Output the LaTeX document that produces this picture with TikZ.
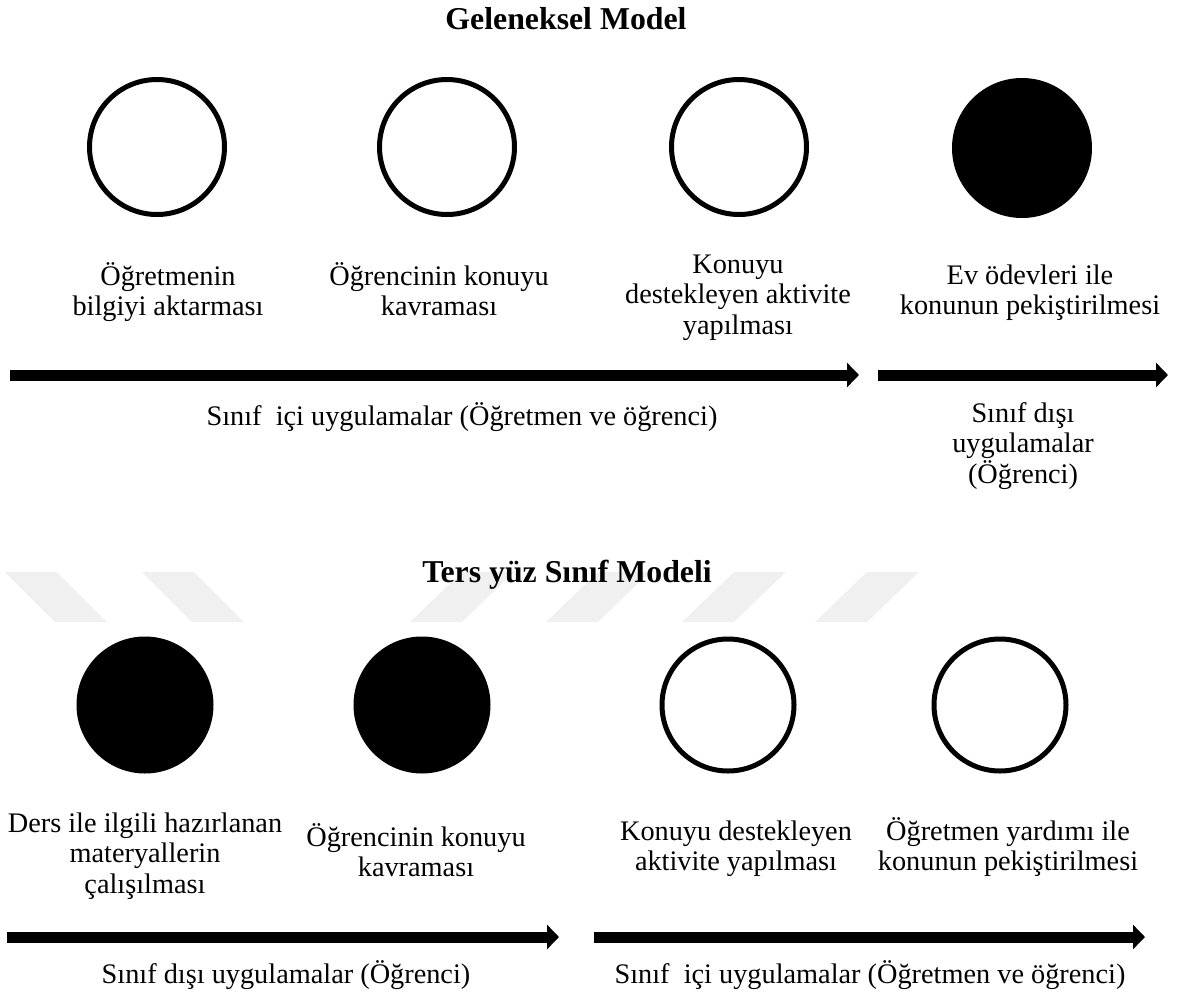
\documentclass[tikz,border=0pt]{standalone}
\usepackage{fontspec}
\setmainfont{Liberation Serif}
\usetikzlibrary{arrows.meta}

\begin{document}
\begin{tikzpicture}[
  x=0.5pt, y=-0.5pt,
  ring/.style={circle,draw,line width=2.5pt,inner sep=0pt,minimum size=67.5pt},
  dot/.style={ring,fill=black},
  lbl/.style={align=center,inner sep=0pt,anchor=base,font=\fontsize{14.15}{15.25}\selectfont},
  ttl/.style={inner sep=0pt,anchor=base,font=\fontsize{15.9}{18}\selectfont\bfseries},
  flow/.style={line width=5.5pt,-{Triangle[length=6pt,width=12pt]}},
  wmark/.style={fill=black!6}
]
  \useasboundingbox (0,0) rectangle (1184,996);
  % watermark stripes
  \fill[wmark] (5,572) -- (57,572) -- (107,622) -- (55,622) -- cycle;
  \fill[wmark] (142,572) -- (194,572) -- (244,622) -- (192,622) -- cycle;
  \fill[wmark] (410,622) -- (462,622) -- (514,572) -- (462,572) -- cycle;
  \fill[wmark] (546,622) -- (598,622) -- (650,572) -- (598,572) -- cycle;
  \fill[wmark] (682,622) -- (734,622) -- (786,572) -- (734,572) -- cycle;
  \fill[wmark] (815,622) -- (867,622) -- (919,572) -- (867,572) -- cycle;
  % Geleneksel Model
  \node[ttl] (t1) at (566,29) {Geleneksel Model};
  \node[ring] (c1) at (157,147) {};
  \node[ring] (c2) at (447,147) {};
  \node[ring] (c3) at (739,147) {};
  \node[dot] (c4) at (1022,148) {};
  % multi-line labels sit on their last baseline
  \node[lbl] (d1) at (168,315.5) {Öğretmenin\\bilgiyi aktarması};
  \node[lbl] (d2) at (439,315.5) {Öğrencinin konuyu\\kavraması};
  \node[lbl] (d3) at (738,334) {Konuyu\\destekleyen aktivite\\yapılması};
  \node[lbl] (d4) at (1030,314.5) {Ev ödevleri ile\\konunun pekiştirilmesi};
  \coordinate (a1s) at (10,375);
  \coordinate (a1e) at (859,375);
  \coordinate (a2s) at (878,375);
  \coordinate (a2e) at (1168,375);
  \draw[flow] (a1s) -- (a1e);
  \draw[flow] (a2s) -- (a2e);
  \node[lbl] (u1) at (462,425) {Sınıf~ içi uygulamalar (Öğretmen ve öğrenci)};
  \node[lbl] (u2) at (1023,483) {Sınıf dışı\\uygulamalar\\(Öğrenci)};
  % Ters yuz Sinif Modeli
  \node[ttl] (t2) at (567,582) {Ters yüz Sınıf Modeli};
  \node[dot,minimum size=66pt] (f1) at (145,705) {};
  \node[dot,minimum size=66pt] (f2) at (422,705) {};
  \node[ring,minimum size=66pt] (f3) at (728,705) {};
  \node[ring,minimum size=66pt] (f4) at (1000,705) {};
  \node[lbl] (e1) at (145,893) {Ders ile ilgili hazırlanan\\materyallerin\\çalışılması};
  \node[lbl] (e2) at (416,876.5) {Öğrencinin konuyu\\kavraması};
  \node[lbl] (e3) at (736,870.5) {Konuyu destekleyen\\aktivite yapılması};
  \node[lbl] (e4) at (1008,870.5) {Öğretmen yardımı ile\\konunun pekiştirilmesi};
  \coordinate (b1s) at (7,937);
  \coordinate (b1e) at (559,937);
  \coordinate (b2s) at (594,937);
  \coordinate (b2e) at (1145,937);
  \draw[flow] (b1s) -- (b1e);
  \draw[flow] (b2s) -- (b2e);
  \node[lbl] (v1) at (286,983) {Sınıf dışı uygulamalar (Öğrenci)};
  \node[lbl] (v2) at (870,983) {Sınıf~ içi uygulamalar (Öğretmen ve öğrenci)};
\end{tikzpicture}
\end{document}
